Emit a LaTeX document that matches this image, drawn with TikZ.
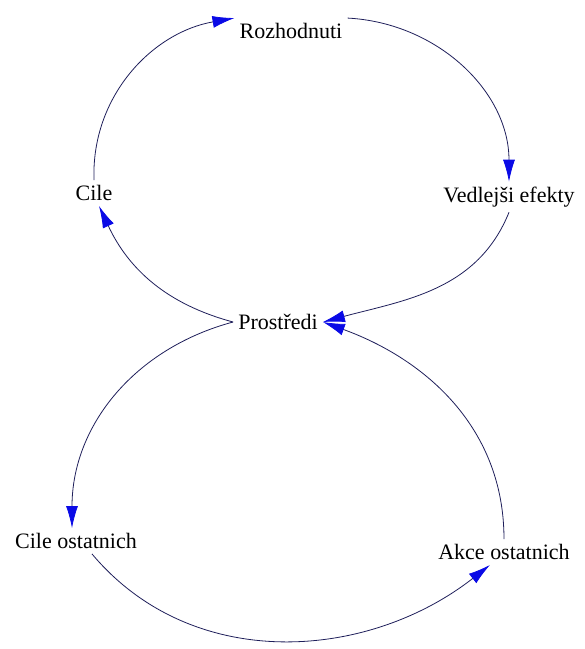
\documentclass[tikz,border=0pt]{standalone}
\usepackage{fontspec}
\setmainfont{Liberation Serif}
\usetikzlibrary{arrows.meta}
\definecolor{linka}{RGB}{30,30,90}
\definecolor{sipka}{RGB}{10,10,230}
\begin{document}
\begin{tikzpicture}[x=1pt,y=-1pt,line join=round,
    >={Latex[length=22pt,width=12pt,fill=sipka,color=sipka]},
    prom/.style={inner sep=5pt,font=\fontsize{22}{26}\selectfont},
    vazba/.style={->,draw=linka,line width=0.8pt}]
                \useasboundingbox (0,0) rectangle (585,649);
                % promenne
                \node[prom] (rozh) at (291,31) {Rozhodnuti};
                \node[prom] (vedl) at (509,197) {Vedlejši efekty};
                \node[prom] (cile) at (94,193) {Cile};
                \node[prom] (prostr) at (278,322) {Prostředi};
                \node[prom] (cileo) at (76,541) {Cile ostatnich};
                \node[prom] (akce) at (504,552) {Akce ostatnich};
                % horni smycka
                \draw[vazba] (cile.north) to[out=92,in=190] (rozh.north west);
                \draw[vazba] (rozh.north east) to[out=-3,in=90] (vedl.north);
                \draw[vazba] (vedl.south) to[out=-112,in=15] (prostr.east);
                \draw[vazba] (prostr.west) to[out=165,in=-65] ([xshift=5]cile.south);
                % dolni smycka
                \draw[vazba] (prostr.west) to[out=195,in=90] ([xshift=-4]cileo.north);
                \draw[vazba] ([xshift=16]cileo.south) to[out=-50,in=218] ([xshift=-14]akce.south);
                \draw[vazba] (akce.north) to[out=90,in=-20] (prostr.east);
            \end{tikzpicture}
\end{document}
